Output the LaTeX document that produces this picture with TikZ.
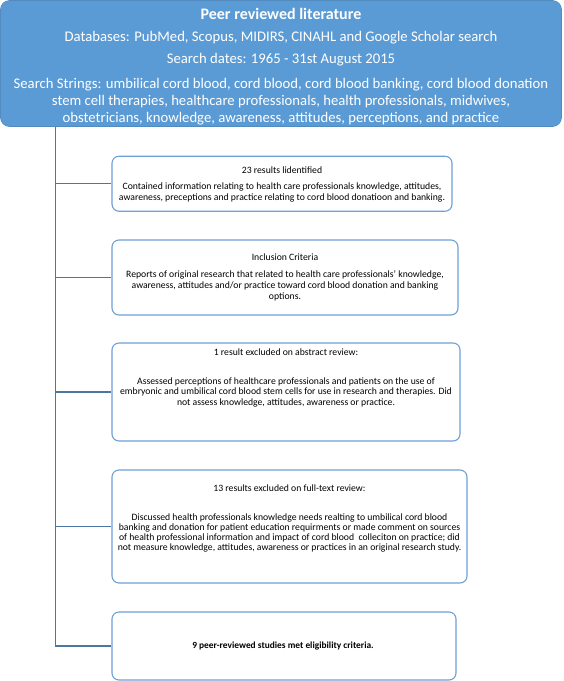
\documentclass[tikz,border=0pt]{standalone}
\usepackage{fontspec}
\setmainfont{Carlito}
\usetikzlibrary{positioning}
\definecolor{hdrblue}{HTML}{5B9BD5}
\definecolor{edgeblue}{HTML}{6FA0D6}
\definecolor{linkblue}{HTML}{4C77A3}
\tikzset{
  hdr/.style={fill=hdrblue, draw=hdrblue!90!black, line width=0.6pt, rounded corners=9pt,
    text=white, align=center, font=\fontsize{14.7}{17}\selectfont},
  box/.style={draw=edgeblue, line width=1.1pt, rounded corners=7pt},
  boxtxt/.style={align=center, inner sep=0pt, font=\fontsize{9.7}{10.8}\selectfont},
  link/.style={draw=linkblue, line width=1.2pt},
}
\begin{document}
\begin{tikzpicture}[x=1pt, y=1pt]
  \useasboundingbox (0,0) rectangle (564,-681);
  \node[hdr, minimum width=561pt, minimum height=126pt] (src) at (281,-63.5) {};
  \node[text=white, align=center, inner sep=0pt, font=\fontsize{14.7}{17}\selectfont] (srctxt) at (281,-66.5)
    {\textbf{\fontsize{16}{17}\selectfont Peer reviewed literature}\\[5pt]
     Databases: PubMed, Scopus, MIDIRS, CINAHL and Google Scholar search\\[5pt]
     Search dates: 1965 - 31st August 2015\\[8pt]
     Search Strings: umbilical cord blood, cord blood, cord blood banking, cord blood donation\\
     stem cell therapies, healthcare professionals, health professionals, midwives,\\
     obstetricians, knowledge, awareness, attitudes, perceptions, and practice};

  \node[box, minimum width=340pt, minimum height=55pt] (found) at (282,-183.75) {};
  \node[box, minimum width=346pt, minimum height=75pt] (incl) at (285,-277.5) {};
  \node[box, minimum width=348pt, minimum height=98pt] (absx) at (286,-392) {};
  \node[box, minimum width=355pt, minimum height=113pt] (fullx) at (289.5,-526.5) {};
  \node[box, minimum width=344pt, minimum height=68pt] (final) at (284,-646) {};

  \node[boxtxt] (foundtxt) at (282,-184.5)
    {23 results lidentified\\[5pt]
     Contained information relating to health care professionals knowledge, attitudes,\\
     awareness, preceptions and practice relating to cord blood donatioon and banking.};
  \node[boxtxt] (incltxt) at (285,-277.5)
    {Inclusion Criteria\\[6pt]
     Reports of original research that related to health care professionals' knowledge,\\
     awareness, attitudes and/or practice toward cord blood donation and banking\\
     options.};
  \node[boxtxt] (absxtxt) at (286,-378)
    {1 result excluded on abstract review:\\[18pt]
     Assessed perceptions of healthcare professionals and patients on the use of\\
     embryonic and umbilical cord blood stem cells for use in research and therapies. Did\\
     not assess knowledge, attitudes, awareness or practice.};
  \node[boxtxt, font=\fontsize{9.7}{10}\selectfont] (fullxtxt) at (289.5,-518.5)
    {13 results excluded on full-text review:\\[19pt]
     Discussed health professionals knowledge needs realting to umbilical cord blood\\
     banking and donation for patient education requirments or made comment on sources\\
     of health professional information and impact of cord blood\ \ colleciton on practice; did\\
     not measure knowledge, attitudes, awareness or practices in an original research study.};
  \node[boxtxt, font=\bfseries\fontsize{9.4}{10.5}\selectfont] (finaltxt) at (283,-646)
    {9 peer-reviewed studies met eligibility criteria.};

  \coordinate (spine) at (55.5,-127);
  \draw[link] (spine) |- (final.west);
  \foreach \b in {found,incl,absx,fullx}
    \draw[link] (spine |- \b.west) -- (\b.west);
\end{tikzpicture}
\end{document}
